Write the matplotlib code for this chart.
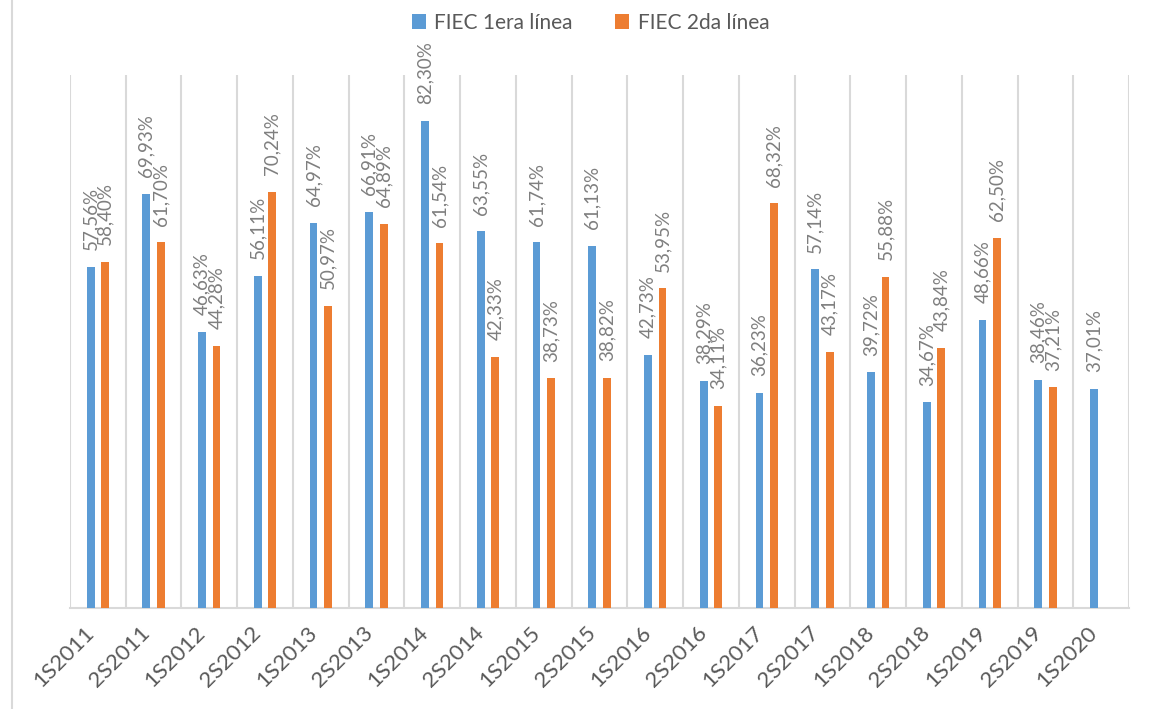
import matplotlib
matplotlib.use("Agg")
import matplotlib.pyplot as plt
from matplotlib.lines import Line2D
import numpy as np

categories = ["1S2011", "2S2011", "1S2012", "2S2012", "1S2013", "2S2013", "1S2014",
              "2S2014", "1S2015", "2S2015", "1S2016", "2S2016", "1S2017", "2S2017",
              "1S2018", "2S2018", "1S2019", "2S2019", "1S2020"]
primera = [57.56, 69.93, 46.63, 56.11, 64.97, 66.91, 82.30, 63.55, 61.74, 61.13,
           42.73, 38.29, 36.23, 57.14, 39.72, 34.67, 48.66, 38.46, 37.01]
segunda = [58.40, 61.70, 44.28, 70.24, 50.97, 64.89, 61.54, 42.33, 38.73, 38.82,
           53.95, 34.11, 68.32, 43.17, 55.88, 43.84, 62.50, 37.21, None]
series_names = ["FIEC 1era línea", "FIEC 2da línea"]

plt.rcParams['font.family'] = ['Lato', 'DejaVu Sans']

BLUE = "#5B9BD5"
ORANGE = "#ED7D31"
GRID = "#D9D9D9"

fig = plt.figure(figsize=(11.53, 7.09), dpi=100)
ax = fig.add_axes([70/1153, 1 - 607.5/709, (1129 - 70)/1153, (607.5 - 75)/709])

x = np.arange(len(categories))
w = 0.14
off = 0.13

def fmt(v):
    return f"{v:.2f}".replace(".", ",") + "%"

for vals, color, sgn, name in [(primera, BLUE, -1, series_names[0]), (segunda, ORANGE, 1, series_names[1])]:
    xs = [xi + sgn * off for xi, v in zip(x, vals) if v is not None]
    hs = [v for v in vals if v is not None]
    ax.bar(xs, hs, width=w, color=color, label=name, zorder=3)
    for xi, v in zip(xs, hs):
        ax.annotate(fmt(v), (xi, v), xytext=(0, 12), textcoords="offset points",
                    rotation=90, ha="center", va="bottom", fontsize=13.5, color="#7F7F7F")

ax.set_xlim(-0.5, len(categories) - 0.5)
ax.set_ylim(0, 90)
ax.set_yticks([])
ax.set_xticks(x)
ax.set_xticklabels(categories, rotation=45, ha="right", va="top", fontsize=16, color="#595959")
ax.tick_params(axis="x", length=0, pad=11)
ax.set_xticks(np.arange(-0.5, len(categories), 1), minor=True)
ax.tick_params(axis="x", which="minor", length=0)
ax.grid(axis="x", which="minor", color=GRID, linewidth=1.5, zorder=0)
ax.grid(axis="x", which="major", visible=False)
for s in ["top", "left", "right"]:
    ax.spines[s].set_visible(False)
ax.spines["bottom"].set_color(GRID)
ax.spines["bottom"].set_linewidth(1.5)

fig.add_artist(Line2D([11.5/1153, 11.5/1153], [0, 1], color=GRID, linewidth=1.5, transform=fig.transFigure))

ax.legend(loc="center", bbox_to_anchor=(0.512, 0.968), bbox_transform=fig.transFigure, ncol=2,
          frameon=False, fontsize=15, handlelength=0.7, handleheight=0.7, handletextpad=0.4,
          columnspacing=2.0, labelcolor="#595959")

fig.savefig("out.png", dpi=100)
